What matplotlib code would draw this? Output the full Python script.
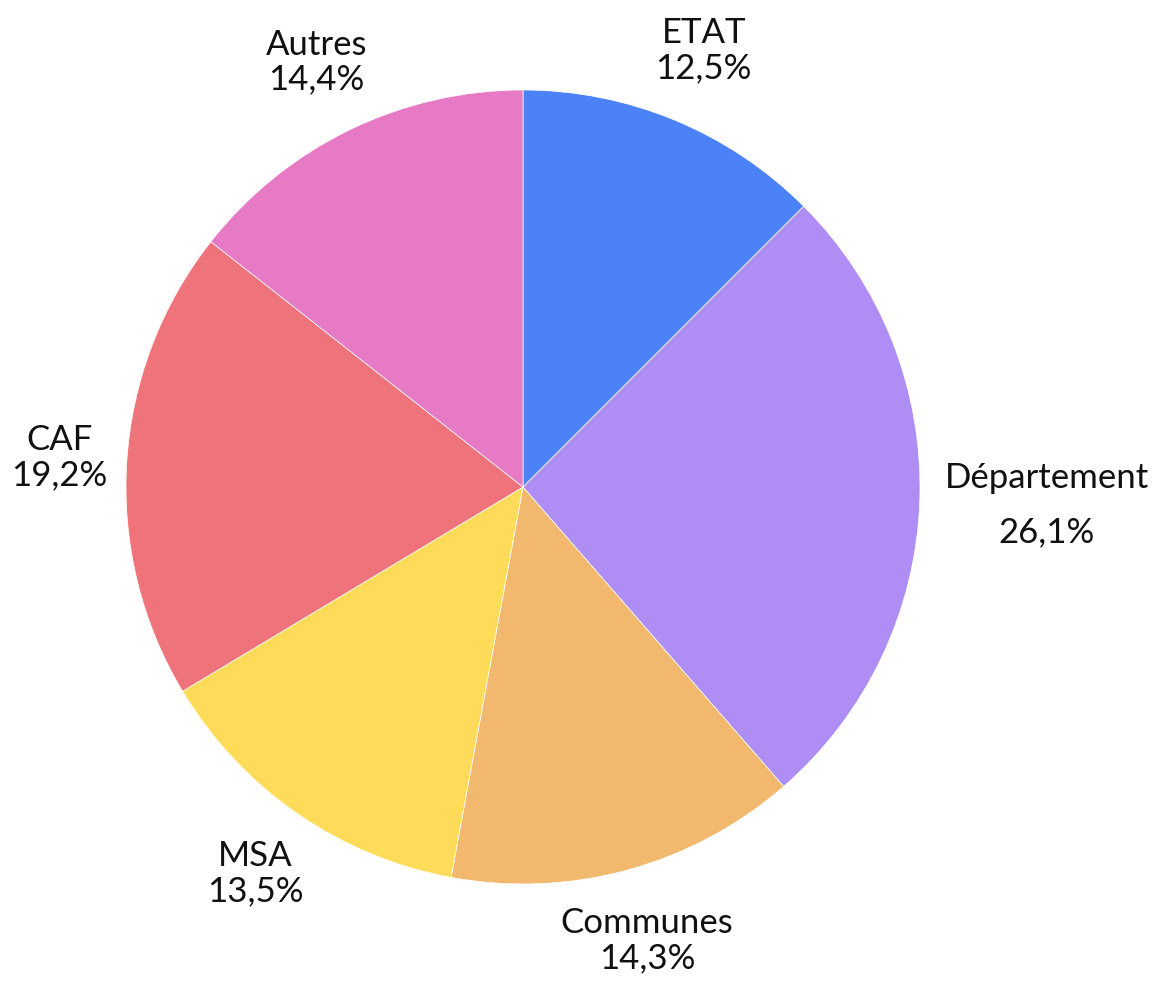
import numpy as np
import matplotlib
matplotlib.use('Agg')
import matplotlib.pyplot as plt

# data
labels = ['ETAT', 'Département', 'Communes', 'MSA', 'CAF', 'Autres']
values = [12.5, 26.1, 14.3, 13.5, 19.2, 14.4]
pct_text = ['12,5%', '26,1%', '14,3%', '13,5%', '19,2%', '14,4%']
colors = ['#4c82f7', '#ae8ef4', '#f2b86e', '#fedc5a', '#ee737b', '#e77ac4']
label_dist = [1.19, 1.32, 1.185, 1.185, 1.17, 1.19]

plt.rcParams['font.family'] = ['Lato', 'DejaVu Sans']

fig = plt.figure(figsize=(11.61, 9.83), dpi=100)
ax = fig.add_axes([0, 0, 1, 1])

# pie center at pixel (523, 487), radius 397 px
R = 397.0
cx, cy = 523.0, 487.0
W, H = 1161.0, 983.0

wedges, _ = ax.pie(values, colors=colors, startangle=90, counterclock=False,
                   radius=1.0, center=(0, 0),
                   wedgeprops=dict(linewidth=0.5, edgecolor='white'))

for w, name, pct, d in zip(wedges, labels, pct_text, label_dist):
    ang = np.deg2rad((w.theta1 + w.theta2) / 2)
    x, y = d * np.cos(ang), d * np.sin(ang)
    ls = 1.85 if name == 'Département' else 1.12
    ax.text(x, y, name + '\n' + pct, ha='center', va='center', fontsize=25,
            fontweight='normal', color='#111111', linespacing=ls)

ax.set_xlim(-cx / R, (W - cx) / R)
ax.set_ylim((cy - H) / R, cy / R)
ax.set_aspect('equal')
ax.axis('off')

plt.savefig('out.png', dpi=100, facecolor='white')
